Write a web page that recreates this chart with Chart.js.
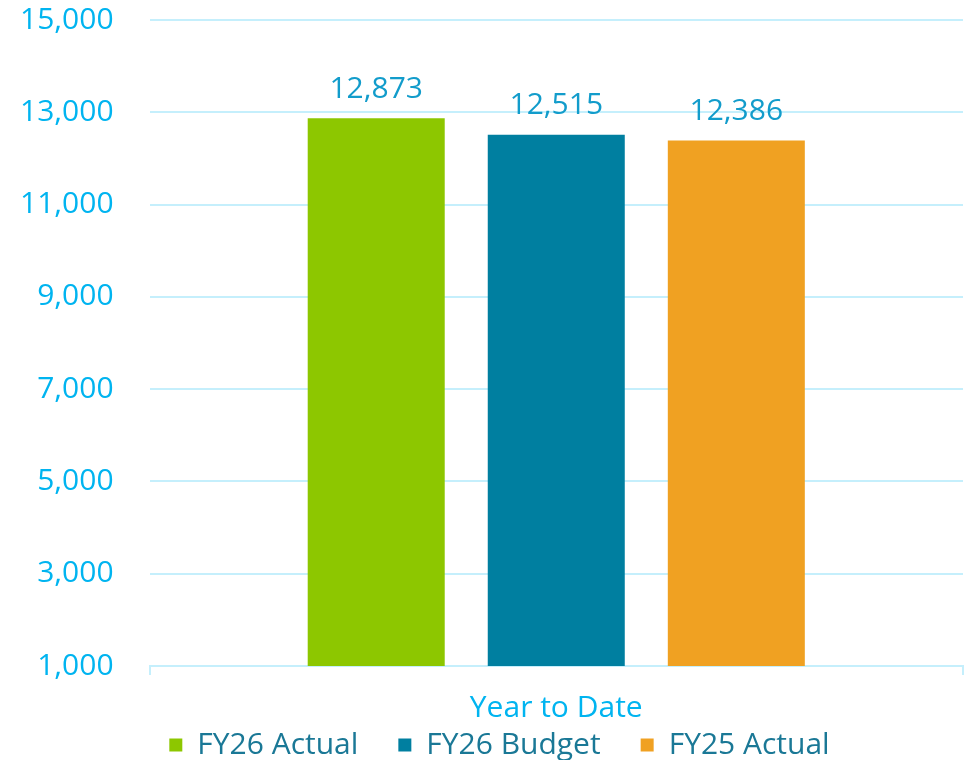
<!DOCTYPE html>
<html>
<head>
<meta charset="utf-8">
<script src="https://cdn.jsdelivr.net/npm/chart.js@4"></script>
<style>
  html, body { margin: 0; padding: 0; background: #fff; }
  #wrap { width: 973px; height: 760px; }
</style>
</head>
<body>
<div id="wrap"><canvas id="ytdChart"></canvas></div>
<script>
const categories = ['Year to Date'];
const seriesNames = ['FY26 Actual', 'FY26 Budget', 'FY25 Actual'];
const seriesValues = [12873, 12515, 12386];
const seriesColors = ['#8DC700', '#007FA0', '#F0A122'];
const yTicks = [1000, 3000, 5000, 7000, 9000, 11000, 13000, 15000];

const fontFamily = '"Open Sans", sans-serif';

// draws the value above each bar
const valueLabels = {
    id: 'valueLabels',
    afterDatasetsDraw(chart) {
        const ctx = chart.ctx;
        ctx.save();
        ctx.font = '30px ' + fontFamily;
        ctx.fillStyle = '#129CCB';
        ctx.textAlign = 'center';
        ctx.textBaseline = 'bottom';
        chart.data.datasets.forEach((ds, i) => {
            const meta = chart.getDatasetMeta(i);
            meta.data.forEach((bar, j) => {
                ctx.fillText(ds.data[j].toLocaleString('en-US'), bar.x, bar.y - 14);
            });
        });
        ctx.restore();
    }
};

// the legend in the original sits a bit right of the canvas centre
const legendShift = {
    id: 'legendShift',
    afterLayout(chart) {
        chart.legend.left += 8;
        chart.legend.right += 8;
    }
};

const datasets = seriesNames.map((name, i) => ({
    label: name,
    data: [seriesValues[i]],
    backgroundColor: seriesColors[i],
    categoryPercentage: 0.664,
    barPercentage: 0.761
}));

new Chart(document.getElementById('ytdChart'), {
    type: 'bar',
    data: { labels: categories, datasets: datasets },
    options: {
        responsive: true,
        maintainAspectRatio: false,
        animation: false,
        layout: { padding: { top: 20, right: 10, left: 20, bottom: -10 } },
        plugins: {
            legend: {
                position: 'bottom',
                labels: {
                    font: { family: fontFamily, size: 30 },
                    color: '#1A7896',
                    boxWidth: 13,
                    boxHeight: 13,
                    padding: 40
                }
            },
            tooltip: { enabled: false }
        },
        scales: {
            x: {
                offset: true,
                ticks: { display: false },
                grid: {
                    drawOnChartArea: false,
                    color: '#C5EFFC',
                    lineWidth: 2,
                    tickLength: 9
                },
                border: { color: '#C5EFFC', width: 2 },
                title: {
                    display: true,
                    text: 'Year to Date',
                    color: '#00B4F0',
                    font: { family: fontFamily, size: 30 },
                    padding: { top: 15, bottom: -36 }
                }
            },
            y: {
                min: 1000,
                max: 15000,
                afterBuildTicks: axis => { axis.ticks = yTicks.map(v => ({ value: v })); },
                ticks: {
                    color: '#00B4F0',
                    font: { family: fontFamily, size: 30 },
                    padding: 0,
                    callback: v => v.toLocaleString('en-US')
                },
                grid: {
                    color: '#C5EFFC',
                    lineWidth: 2,
                    drawTicks: true,
                    tickLength: 36,
                    tickColor: 'rgba(0,0,0,0)'
                },
                border: { display: false }
            }
        }
    },
    plugins: [valueLabels, legendShift]
});
</script>
</body>
</html>
